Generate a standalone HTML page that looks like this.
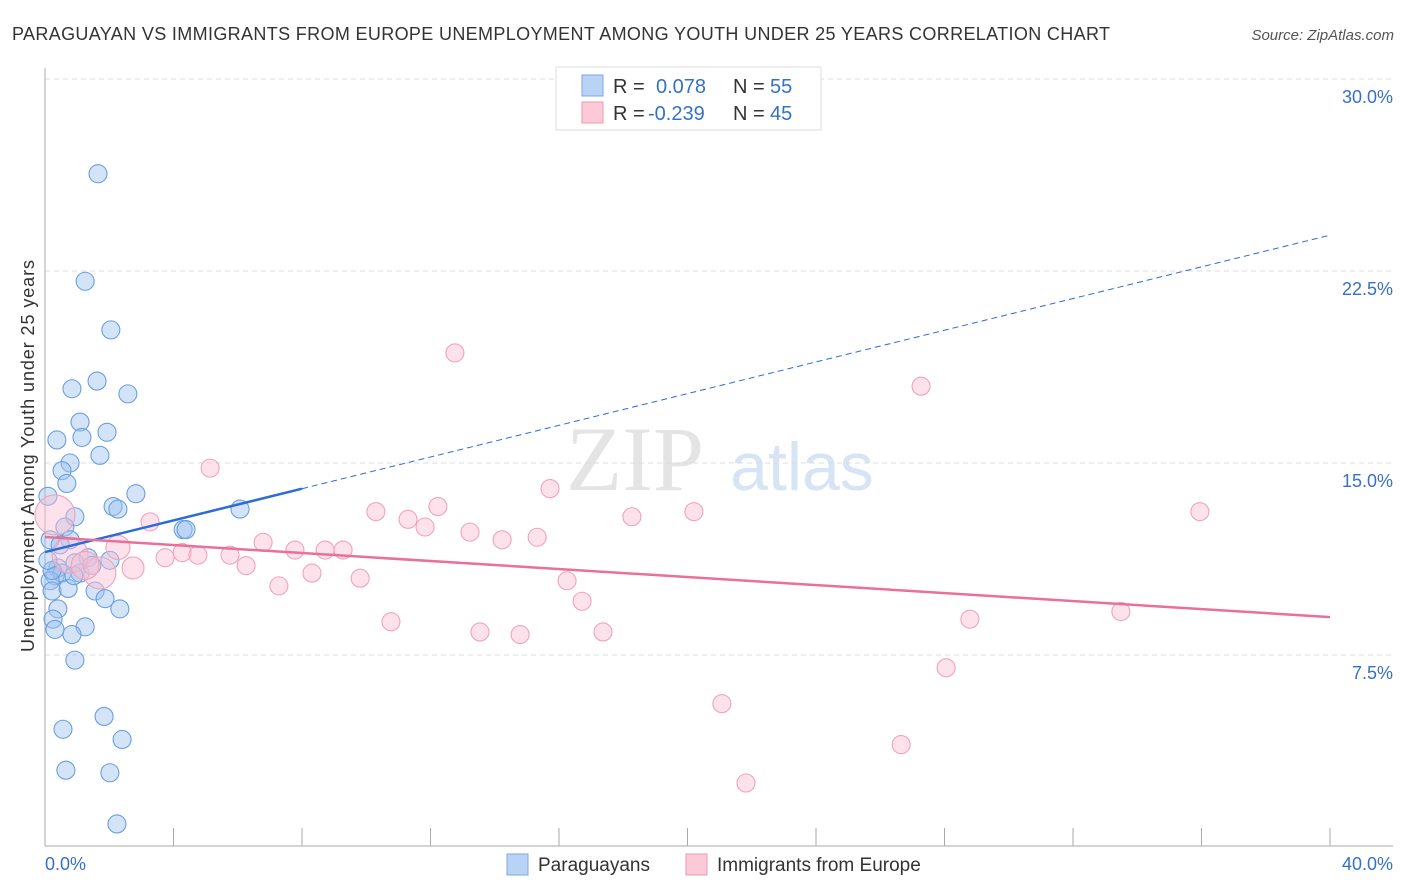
<!DOCTYPE html>
<html><head><meta charset="utf-8"><style>
body{margin:0;background:#fff;font-family:"Liberation Sans",sans-serif}
svg{display:block}
</style></head><body>
<svg id="c" width="1406" height="892" xmlns="http://www.w3.org/2000/svg">
<text x="12" y="40" font-size="18" fill="#333" textLength="1098" lengthAdjust="spacing">PARAGUAYAN VS IMMIGRANTS FROM EUROPE UNEMPLOYMENT AMONG YOUTH UNDER 25 YEARS CORRELATION CHART</text>
<text x="1394" y="40" font-size="15" fill="#555" font-style="italic" text-anchor="end">Source: ZipAtlas.com</text>
<text x="635" y="490" font-size="92" fill="#e4e4e4" font-family="Liberation Serif,serif" text-anchor="middle">ZIP</text>
<text x="802" y="490" font-size="68" fill="#d6e4f5" text-anchor="middle">atlas</text>
<text transform="translate(34,456) rotate(-90)" font-size="18" fill="#333" text-anchor="middle" textLength="392" lengthAdjust="spacing">Unemployment Among Youth under 25 years</text>
<g id="grid"></g><g id="marks"></g><g id="trends"></g>
<g>
<rect x="556" y="67" width="265" height="63" fill="#fff" stroke="#ddd"/>
<rect x="582" y="75" width="21" height="21" fill="#b9d3f5" stroke="#7aa8e6"/>
<rect x="582" y="102" width="21" height="21" fill="#fcc9d8" stroke="#ee97b2"/>
<text x="613" y="93" font-size="20" fill="#333">R = </text><text x="656" y="93" font-size="20" fill="#3571c9">0.078</text>
<text x="733" y="93" font-size="20" fill="#333">N = </text><text x="770" y="93" font-size="20" fill="#3571c9">55</text>
<text x="613" y="120" font-size="20" fill="#333">R = </text><text x="648" y="120" font-size="20" fill="#3571c9">-0.239</text>
<text x="733" y="120" font-size="20" fill="#333">N = </text><text x="770" y="120" font-size="20" fill="#3571c9">45</text>
</g>
<g>
<rect x="507" y="854" width="21" height="21" fill="#b9d3f5" stroke="#7aa8e6"/>
<text x="538" y="871" font-size="19" fill="#333">Paraguayans</text>
<rect x="686" y="854" width="21" height="21" fill="#fcc9d8" stroke="#ee97b2"/>
<text x="717" y="871" font-size="19" fill="#333">Immigrants from Europe</text>
</g>
</svg>
<script>
const xTicks=[0,4,8,12,16,20,24,28,32,36,40];
const yTicks=[7.5,15,22.5,30];
const yTickLabels=["7.5%","15.0%","22.5%","30.0%"];
const blueX=[1.65,1.25,2.05,0.84,1.62,2.58,1.09,0.37,1.15,1.93,1.71,0.78,0.53,0.68,0.09,2.83,2.12,2.27,6.07,0.93,0.62,4.30,4.39,0.16,0.78,0.47,1.34,2.02,0.93,0.40,0.31,0.53,1.09,0.16,0.22,0.72,1.56,1.87,0.40,2.33,0.25,0.31,1.25,0.84,0.93,1.84,0.56,2.40,0.65,2.02,2.24,0.22,0.09,0.90,1.46];
const blueY=[26.3,22.1,20.2,17.9,18.2,17.7,16.6,15.9,16.0,16.2,15.3,15.0,14.7,14.2,13.7,13.8,13.3,13.2,13.2,12.9,12.5,12.4,12.4,12.0,12.0,11.8,11.3,11.2,11.1,10.9,10.6,10.7,10.7,10.4,10.0,10.1,10.0,9.7,9.3,9.3,8.9,8.5,8.6,8.3,7.3,5.1,4.6,4.2,3.0,2.9,0.9,10.8,11.2,10.6,11.0];
const pinkX=[12.76,27.27,5.14,15.72,12.23,10.30,11.30,18.27,20.20,35.95,3.27,11.83,13.23,14.23,15.32,6.79,7.78,8.72,9.28,4.27,4.76,3.74,5.76,2.27,6.26,2.74,8.31,9.81,16.25,7.28,16.72,10.77,13.54,14.79,17.37,28.79,33.49,28.05,21.07,26.65,21.82,0.31,0.78,1.71,1.25];
const pinkY=[19.3,18.0,14.8,14.0,13.3,13.1,12.8,12.9,13.1,13.1,12.7,12.5,12.3,12.0,12.1,11.9,11.6,11.6,11.6,11.5,11.4,11.3,11.4,11.7,10.99,10.9,10.7,10.5,10.4,10.2,9.6,8.8,8.4,8.3,8.4,8.9,9.2,7.0,5.6,4.0,2.5,12.97,11.4,10.7,11.0];
const pinkR=[9,9,9,9,9,9,9,9,9,9,9,9,9,9,9,9,9,9,9,9,9,9,9,12,9,11,9,9,9,9,9,9,9,9,9,9,9,9,9,9,9,20,18,16,14];
const blueTrend=[11.52,23.9];
const pinkTrend=[12.11,8.98];
const blueSolidEnd=8;
const X=v=>45+v*32.125, Y=v=>847-v*25.6;
const NS="http://www.w3.org/2000/svg";
function mk(tag,at,parent){const e=document.createElementNS(NS,tag);for(const k in at)e.setAttribute(k,at[k]);parent.appendChild(e);return e;}
const grid=document.getElementById('grid'),marks=document.getElementById('marks'),tr=document.getElementById('trends');
yTicks.forEach((t,i)=>{
 const l=mk('line',{x1:45,x2:1393,y1:Y(t),y2:Y(t),stroke:'#ddd','stroke-dasharray':'5,4'},grid);
 
 
 const tx=mk('text',{x:1393,y:Y(t)+24,'font-size':18,fill:'#3571c9','text-anchor':'end'},grid);
 tx.textContent=yTickLabels[i];
 
 
});
const ax=mk('line',{x1:45,x2:45,y1:68,y2:846,stroke:'#aaa'},grid);


const bx=mk('line',{x1:45,x2:1393,y1:846,y2:846,stroke:'#aaa'},grid);


xTicks.forEach(t=>{
 const l=mk('line',{x1:X(t),x2:X(t),y1:828,y2:846,stroke:'#aaa'},grid);
 
 
});
[[0,"0.0%","start",45],[40,"40.0%","end",1393]].forEach(a=>{
 const tx=mk('text',{x:a[3],y:870,'font-size':18,fill:'#3571c9','text-anchor':a[2]},grid);
 tx.textContent=a[1];
 
 
});
blueX.forEach((v,i)=>{
 const c=mk('circle',{cx:X(v),cy:Y(blueY[i]),r:9,fill:'rgba(160,196,240,0.45)',stroke:'#6a9fe0','stroke-width':1.1},marks);
 
 
});
pinkX.forEach((v,i)=>{
 const c=mk('circle',{cx:X(v),cy:Y(pinkY[i]),r:pinkR[i],fill:'rgba(250,190,210,0.45)',stroke:'#f0a3bb','stroke-width':1.1},marks);
 
 
});
const by=v=>blueTrend[0]+(blueTrend[1]-blueTrend[0])*v/40;
const b1=mk('line',{x1:X(0),y1:Y(by(0)),x2:X(blueSolidEnd),y2:Y(by(blueSolidEnd)),stroke:'#2a6dd6','stroke-width':2.5},tr);


const b2=mk('line',{x1:X(blueSolidEnd),y1:Y(by(blueSolidEnd)),x2:X(40),y2:Y(by(40)),stroke:'#2a6dd6','stroke-width':1,'stroke-dasharray':'6,4'},tr);


const p1=mk('line',{x1:X(0),y1:Y(pinkTrend[0]),x2:X(40),y2:Y(pinkTrend[1]),stroke:'#e8709a','stroke-width':2.5},tr);


</script>
</body></html>
